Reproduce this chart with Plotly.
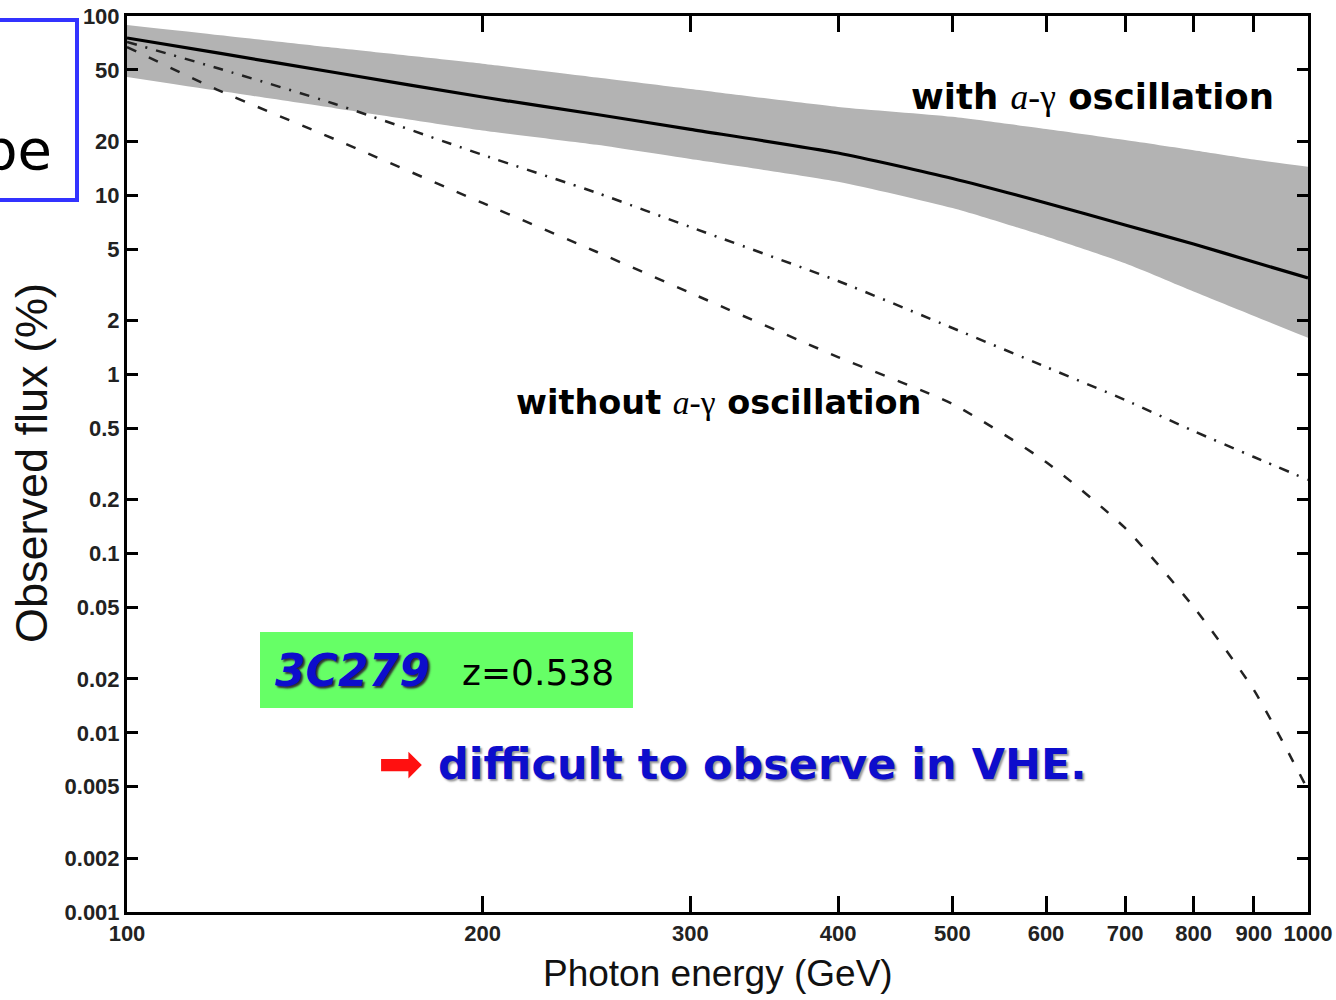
import plotly.graph_objects as go

# ---- data ----
energy = [100, 120, 150, 200, 250, 300, 400, 500, 600, 700, 800, 900, 1000]
with_osc = [75.4, 61.8, 48.4, 35.3, 28.2, 23.3, 17.2, 12.4, 9.05, 6.82, 5.34, 4.24, 3.45]
band_upper = [89.1, 78.1, 66.5, 54.2, 45.4, 39.2, 31.1, 27.4, 23.4, 20.3, 17.8, 15.8, 14.4]
band_lower = [45.7, 38.1, 30.6, 23.0, 19.1, 15.9, 11.9, 8.48, 5.88, 4.17, 2.90, 2.12, 1.60]
without_dashdot = [71.6, 50.6, 32.3, 16.8, 10.3, 6.64, 3.32, 1.815, 1.10, 0.72, 0.483, 0.346, 0.258]
without_dashed = [67.1, 38.1, 20.5, 9.05, 4.82, 2.85, 1.25, 0.684, 0.3245, 0.139, 0.0504, 0.0173, 0.0048]

x_ticks = [100, 200, 300, 400, 500, 600, 700, 800, 900, 1000]
x_ticktext = [str(v) for v in x_ticks]
y_ticks = [100, 50, 20, 10, 5, 2, 1, 0.5, 0.2, 0.1, 0.05, 0.02, 0.01, 0.005, 0.002, 0.001]
y_ticktext = ["100", "50", "20", "10", "5", "2", "1", "0.5", "0.2", "0.1", "0.05",
              "0.02", "0.01", "0.005", "0.002", "0.001"]

ARIAL = "Liberation Sans, Arial, sans-serif"
SLIDE = "DejaVu Sans, Verdana, sans-serif"

fig = go.Figure()
fig.add_trace(go.Scatter(x=energy, y=band_upper, mode="lines",
                         line=dict(width=0, shape="spline", smoothing=0.6),
                         showlegend=False, hoverinfo="skip"))
fig.add_trace(go.Scatter(x=energy, y=band_lower, mode="lines", fill="tonexty",
                         fillcolor="#b3b3b3",
                         line=dict(width=0, shape="spline", smoothing=0.6),
                         showlegend=False, hoverinfo="skip"))
fig.add_trace(go.Scatter(x=energy, y=without_dashdot, mode="lines",
                         line=dict(color="#222222", width=2.5, dash="10px,9px,2px,9px",
                                   shape="spline", smoothing=0.6),
                         showlegend=False))
fig.add_trace(go.Scatter(x=energy, y=without_dashed, mode="lines",
                         line=dict(color="#222222", width=2.5, dash="10px,14px",
                                   shape="spline", smoothing=0.6),
                         showlegend=False))
fig.add_trace(go.Scatter(x=energy, y=with_osc, mode="lines",
                         line=dict(color="black", width=3.2, shape="spline", smoothing=0.6),
                         showlegend=False))

L, R, T, B = 127, 28, 16, 88
W, H = 1336, 1000
pw, ph = W - L - R, H - T - B


def px(x):
    return (x - L) / pw


def py(y):
    return (H - B - y) / ph


tickfont = dict(family=ARIAL, size=22, color="#222222", weight="bold")
fig.update_layout(
    width=W, height=H, autosize=False,
    margin=dict(l=L, r=R, t=T, b=B, pad=0),
    paper_bgcolor="white", plot_bgcolor="white",
    showlegend=False,
    xaxis=dict(type="log", range=[2, 3], tickvals=x_ticks, ticktext=x_ticktext,
               ticks="inside", ticklen=16, tickwidth=3, tickcolor="black",
               showline=True, linewidth=3, linecolor="black", mirror="ticks",
               showgrid=False, zeroline=False, automargin=False,
               tickfont=tickfont),
    yaxis=dict(type="log", range=[-3, 2], tickvals=y_ticks, ticktext=y_ticktext,
               ticks="inside", ticklen=11, tickwidth=3, tickcolor="black",
               showline=True, linewidth=3, linecolor="black", mirror="ticks",
               showgrid=False, zeroline=False, automargin=False,
               tickfont=tickfont),
)

shapes = [
    dict(type="rect", xref="paper", yref="paper",
         x0=px(260), x1=px(633), y0=py(708), y1=py(632),
         fillcolor="#66ff66", line=dict(width=0), layer="below"),
    dict(type="rect", xref="paper", yref="paper",
         x0=px(-30), x1=px(77), y0=py(200), y1=py(20),
         fillcolor="rgba(0,0,0,0)", line=dict(color="#3333ff", width=4)),
]
fig.update_layout(shapes=shapes)

SER = "<span style='font-family:Liberation Serif, Times New Roman, serif; font-weight:normal'>"
annotations = [
    dict(text="Photon energy (GeV)", x=0.5, y=py(973), xref="paper", yref="paper",
         showarrow=False, xanchor="center", yanchor="middle",
         font=dict(family=ARIAL, size=37, color="#111111")),
    dict(text="Observed flux (%)", x=px(31), y=py(463), xref="paper", yref="paper",
         showarrow=False, xanchor="center", yanchor="middle", textangle=-90,
         font=dict(family=ARIAL, size=45, color="#111111")),
    dict(text="with " + SER + "<i>a</i>-γ</span> oscillation",
         x=px(1092), y=py(96), xref="paper", yref="paper", showarrow=False,
         xanchor="center", yanchor="middle",
         font=dict(family=SLIDE, size=35.5, color="black", weight="bold")),
    dict(text="without " + SER + "<i>a</i>-γ</span> oscillation",
         x=px(718), y=py(402), xref="paper", yref="paper", showarrow=False,
         xanchor="center", yanchor="middle",
         font=dict(family=SLIDE, size=33.5, color="black", weight="bold")),
    dict(text="<i>3C279</i>", x=px(352), y=py(670), xref="paper", yref="paper",
         showarrow=False, xanchor="center", yanchor="middle",
         font=dict(family=SLIDE, size=44, color="#0d0dcc", weight="bold",
                   shadow="2px 2px 2px #333333")),
    dict(text="z=0.538", x=px(538), y=py(672), xref="paper", yref="paper",
         showarrow=False, xanchor="center", yanchor="middle",
         font=dict(family=SLIDE, size=36, color="black")),
    dict(text="➡", x=px(400), y=py(763), xref="paper", yref="paper",
         showarrow=False, xanchor="center", yanchor="middle",
         font=dict(family=SLIDE, size=54, color="#ff1010")),
    dict(text="difficult to observe in VHE.", x=px(762), y=py(764), xref="paper", yref="paper",
         showarrow=False, xanchor="center", yanchor="middle",
         font=dict(family=SLIDE, size=43, color="#0d0dcc", weight="bold",
                   shadow="2px 2px 2px #999999")),
    dict(text="pe", x=px(54), y=py(150), xref="paper", yref="paper",
         showarrow=False, xanchor="right", yanchor="middle",
         font=dict(family=SLIDE, size=56, color="black")),
]
fig.update_layout(annotations=annotations)

fig.write_html("out.html")
